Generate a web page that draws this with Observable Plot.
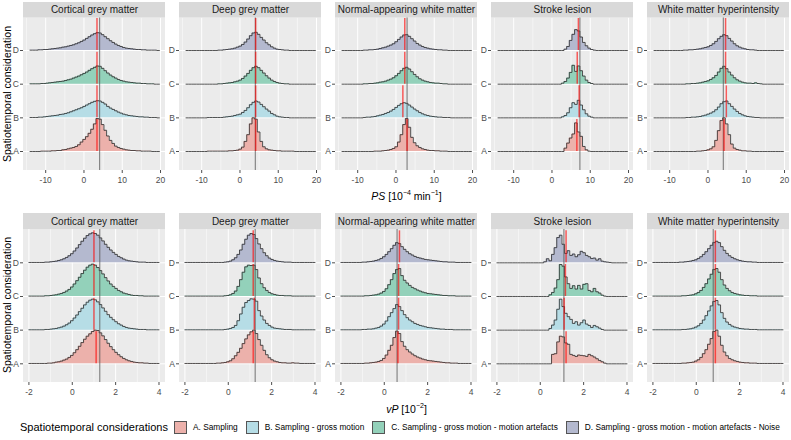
<!DOCTYPE html>
<html><head><meta charset="utf-8">
<script src="https://cdn.jsdelivr.net/npm/d3@7"></script>
<script src="https://cdn.jsdelivr.net/npm/@observablehq/plot@0.6"></script>
<style>
body{margin:0;background:#fff;}
#root{position:relative;width:791px;height:440px;font-family:"Liberation Sans",Arial,sans-serif;color:#000;overflow:hidden;background:#fff}
.abs{position:absolute}
.xt{text-align:center;font-size:10.5px;color:#000;line-height:14px}
.yt{font-size:10.5px;text-align:center;transform:rotate(-90deg);white-space:nowrap;line-height:12px}
#legend{display:flex;align-items:center;white-space:nowrap}
#legend .ttl{font-size:11px;margin-right:6px}
#legend .key{width:13px;height:13px;border:0.8px solid #555;box-sizing:border-box;margin-right:6px}
#legend .lab{font-size:8.3px;margin-right:8px}
</style></head><body>
<div id="root">
  <div id="p1" class="abs" style="left:0;top:0"></div>
  <div class="abs xt" style="left:22px;width:769px;top:186px"><i>PS</i> [10<sup style="font-size:7px">−4</sup> min<sup style="font-size:7px">−1</sup>]</div>
  <div id="p2" class="abs" style="left:0;top:200px"></div>
  <div class="abs xt" style="left:22px;width:769px;top:399px"><i>vP</i> [10<sup style="font-size:7px">−2</sup>]</div>
  <div class="abs yt" style="left:-78px;top:88px;width:170px;height:12px">Spatiotemporal consideration</div>
  <div class="abs yt" style="left:-78px;top:299px;width:170px;height:12px">Spatiotemporal consideration</div>
  <div id="legend" class="abs" style="left:20px;top:419px;height:16px"></div>
</div>
<script>
const panels = ["Cortical grey matter","Deep grey matter","Normal-appearing white matter","Stroke lesion","White matter hyperintensity"];
const groups = ["A","B","C","D"];
const legendTitle = "Spatiotemporal considerations";
const legendLabels = ["A. Sampling","B. Sampling - gross motion","C. Sampling - gross motion - motion artefacts","D. Sampling - gross motion - motion artefacts - Noise"];
const fillColors = ["#ECB1AB","#B6DDE6","#93D1BA","#B4B9CF"];

const psTicks = [-10,0,10,20];
const psMinor = [-15,-5,5,15];
const vpTicks = [-2,0,2,4];
const vpMinor = [-1,1,3];

// PS histograms: bins start at -14.1, width 0.69 ; heights in % of ridge spacing
const psBinStart = -14.1, psBinWidth = 0.69;
const psCortical = [
 [0,0,0,0,1,1,1,1,2,2,3,3,5,6,8,10,12,15,20,28,36,44,54,66,82,98,96,80,63,46,33,24,16,12,9,7,5,4,3,3,2,2,1,1,1,1,0,0,0],
 [1,1,1,2,2,3,4,5,6,7,8,10,11,13,15,18,21,24,27,30,34,38,42,46,49,51,50,46,41,34,29,25,21,17,14,11,9,7,6,5,4,3,3,2,2,1,1,1,0],
 [1,1,1,1,2,2,3,4,5,6,7,8,9,11,13,15,18,21,24,28,32,36,41,46,50,54,53,47,40,33,27,22,18,14,11,9,7,6,5,4,3,3,2,2,1,1,1,0,0],
 [1,1,1,2,2,3,3,4,5,6,7,8,10,11,13,15,17,20,23,27,31,36,41,46,50,53,52,47,41,35,29,24,19,15,12,9,7,6,5,4,3,3,2,2,1,1,1,1,0]];
const psDeep = [
 [0,0,0,0,0,0,0,0,1,1,1,1,1,1,1,1,2,2,3,4,7,13,30,50,82,100,96,58,30,14,8,5,4,3,2,2,1,1,1,1,1,0,0,0,0,0,0,0,0],
 [0,0,0,0,0,0,0,0,1,1,1,1,1,1,2,3,4,5,7,9,11,16,22,30,39,46,50,47,40,33,26,20,13,9,5,3,2,1,1,0,0,0,0,0,0,0,0,0,0],
 [0,0,0,0,0,0,0,0,0,0,0,0,1,1,2,3,4,5,7,9,12,17,24,32,41,49,53,49,41,33,25,18,12,8,5,3,2,1,1,0,0,0,0,0,0,0,0,0,0],
 [0,0,0,0,0,0,0,0,0,0,0,0,1,1,2,3,4,5,7,10,13,18,25,34,44,52,54,48,39,31,23,17,11,7,4,3,2,1,1,0,0,0,0,0,0,0,0,0,0]];
const psNAWM = [
 [0,0,0,0,0,0,0,0,0,0,0,0,1,1,1,2,3,4,6,9,14,28,50,80,98,72,42,26,17,12,8,6,4,3,3,2,2,1,1,1,0,0,0,0,0,0,0,0,0],
 [0,0,0,0,0,0,0,0,1,2,2,3,4,6,8,10,13,16,20,25,31,37,42,45,43,38,32,26,21,16,12,9,7,5,4,3,2,2,1,1,1,0,0,0,0,0,0,0,0],
 [0,0,0,0,0,0,0,0,1,1,2,2,3,4,6,7,9,12,15,19,25,32,40,47,50,45,37,29,22,16,12,9,7,5,4,3,3,2,1,1,0,0,0,0,0,0,0,0,0],
 [0,0,0,0,0,0,0,0,1,1,2,2,3,4,6,8,10,13,16,20,26,33,40,46,47,42,35,28,21,16,12,9,7,5,4,3,2,2,1,1,0,0,0,0,0,0,0,0,0]];
const psStroke = [
 [0,0,0,0,0,0,0,0,0,0,0,0,0,0,0,0,0,0,0,0,0,0,0,0,0,10,25,40,52,85,58,45,15,5,1,0,0,0,0,0,0,0,0,0,0,0,0,0,0],
 [0,0,0,0,0,0,0,0,0,0,0,0,0,0,0,0,0,0,0,0,0,0,0,0,3,7,15,30,45,40,52,38,24,12,5,2,0,0,0,0,0,0,0,0,0,0,0,0,0],
 [0,0,0,0,0,0,0,0,0,0,0,0,0,0,0,0,0,0,0,0,0,0,0,0,3,8,18,35,56,38,54,40,24,12,5,2,0,0,0,0,0,0,0,0,0,0,0,0,0],
 [0,0,0,0,0,0,0,0,0,0,0,0,0,0,0,0,0,0,0,0,0,0,0,0,0,4,12,30,48,62,58,40,24,14,7,3,1,0,0,0,0,0,0,0,0,0,0,0,0]];
const psWMH = [
 [0,0,0,0,0,0,0,0,0,0,0,0,0,0,0,0,1,1,2,3,5,8,14,33,62,92,100,82,50,22,10,6,4,2,2,1,1,0,0,0,0,0,0,0,0,0,0,0,0],
 [0,0,0,0,0,0,0,0,0,0,0,0,1,1,2,2,3,4,6,8,11,14,18,24,32,42,48,50,42,34,26,19,13,9,6,4,3,2,1,1,0,0,0,0,0,0,0,0,0],
 [0,0,0,0,0,0,0,0,0,0,0,0,1,1,2,2,3,4,6,8,10,14,19,26,36,47,53,46,36,27,19,13,9,6,4,3,3,2,4,2,1,0,0,0,0,0,0,0,0],
 [0,0,0,0,0,0,0,0,0,0,0,1,1,2,2,3,4,5,7,9,11,15,20,27,35,42,47,44,36,28,20,14,10,7,5,3,2,2,1,0,0,0,0,0,0,0,0,0,0]];
const psMean = [[3.4,3.4,3.4,3.4],[4.1,4.1,4.1,4.1],[2.9,1.8,2.3,2.3],[6.5,7.1,6.6,6.9],[4.2,4.8,4.6,4.6]];
const psRef = [4.1,4.0,2.9,7.3,4.0];

// vP histograms: bins start at -2, width 0.12
const vpBinStart = -2, vpBinWidth = 0.12;
const vpCortical = [
 [1,1,1,1,1,1,1,2,2,3,5,6,8,11,14,19,25,33,42,52,63,73,82,89,96,100,99,92,83,72,61,51,42,34,27,21,16,12,9,7,5,4,3,3,2,2,1,1,1,1],
 [1,1,1,1,1,1,2,2,3,4,5,7,9,12,16,21,28,36,45,55,65,75,83,89,92,90,84,76,66,56,46,38,31,25,19,15,11,8,6,5,4,3,2,2,2,1,1,1,1,1],
 [1,1,1,1,1,1,2,2,3,4,5,7,9,12,16,21,28,37,47,57,68,78,87,93,96,93,86,77,67,56,46,37,30,24,18,14,10,8,6,4,3,3,2,2,1,1,1,1,1,1],
 [1,1,1,1,1,1,2,2,3,4,5,7,9,12,16,21,27,35,44,54,64,73,81,86,89,87,82,74,65,55,46,38,31,25,19,15,11,8,6,5,4,3,2,2,2,1,1,1,1,1]];
const vpDeep = [
 [1,1,1,1,1,1,1,1,1,1,1,1,2,2,3,4,6,9,15,24,34,46,60,74,86,95,100,90,72,55,40,27,18,12,8,6,4,3,3,2,2,3,2,2,1,1,1,1,1,1],
 [1,1,1,1,1,1,1,1,1,1,1,1,1,1,1,2,3,5,8,14,28,48,68,82,88,93,92,86,58,42,30,20,14,9,6,5,4,3,2,2,2,1,1,1,1,1,1,1,1,1],
 [1,1,1,1,1,1,1,1,1,1,1,1,1,1,1,2,3,5,9,16,30,50,72,88,93,92,93,80,55,38,26,18,12,8,6,4,3,3,2,2,2,1,1,1,1,1,1,1,1,1],
 [1,1,1,1,1,1,1,1,1,1,1,1,1,1,1,2,3,5,9,15,25,38,55,70,82,87,84,72,56,42,30,21,14,10,7,5,4,3,2,2,2,1,1,1,1,1,1,1,1,1]];
const vpNAWM = [
 [1,1,1,1,1,1,1,1,1,2,2,3,4,5,7,10,16,26,40,55,78,97,90,66,52,42,35,29,24,20,17,14,12,10,9,8,7,6,5,4,3,3,2,2,2,1,1,1,1,1],
 [1,1,1,1,1,1,1,1,2,2,3,3,4,6,8,12,18,27,40,52,64,76,70,58,46,37,30,25,20,17,14,12,10,8,7,6,5,4,3,3,2,2,2,1,1,1,1,1,1,1],
 [1,1,1,1,1,1,1,1,1,2,2,3,4,5,7,10,15,23,35,50,68,80,83,62,48,40,33,27,23,19,16,13,11,9,8,7,6,5,4,3,3,2,2,2,1,1,1,1,1,1],
 [1,1,1,1,1,1,1,1,2,2,3,4,5,7,9,13,18,25,33,42,52,60,57,48,40,33,27,23,19,16,14,12,10,9,8,7,6,5,4,3,3,2,2,2,1,1,1,1,1,1]];
const vpStroke = [
 [0,0,0,0,0,0,0,0,0,0,0,0,0,0,0,0,0,0,0,0,0,28,30,65,82,80,62,58,28,25,22,26,25,24,22,28,24,20,15,10,6,2,0,0,0,0,0,0,0,0],
 [0,0,0,0,0,0,0,0,0,0,0,0,0,0,0,0,0,0,0,0,5,15,30,62,92,70,50,40,32,20,25,15,22,30,18,14,8,14,10,6,2,0,0,0,0,0,0,0,0,0],
 [0,0,0,0,0,0,0,0,0,0,0,0,0,0,0,0,0,0,0,0,5,12,25,50,95,90,58,38,24,32,22,33,22,36,38,18,14,24,14,10,4,1,0,0,0,0,0,0,0,0],
 [0,0,0,0,0,0,0,0,0,0,0,0,0,0,0,0,0,0,3,12,6,25,45,75,82,55,28,36,22,26,18,24,34,30,22,18,13,14,8,12,5,3,2,1,0,0,0,0,0,0]];
const vpWMH = [
 [1,1,1,1,1,1,1,1,1,1,1,2,2,3,4,5,8,12,19,30,42,58,75,96,100,82,55,35,24,16,12,9,7,5,4,3,3,2,2,2,1,1,1,1,1,1,1,1,1,1],
 [1,1,1,1,1,1,1,1,1,1,1,2,2,3,4,6,9,13,20,30,43,57,72,85,88,75,52,35,24,17,12,9,7,5,4,3,3,2,2,2,1,1,1,1,1,1,1,1,1,1],
 [1,1,1,1,1,1,1,1,1,1,1,2,2,3,4,5,8,12,18,27,38,52,66,80,83,72,50,34,24,17,12,9,7,5,4,3,3,2,2,2,1,1,1,1,1,1,1,1,1,1],
 [1,1,1,1,1,1,1,1,1,1,2,2,3,4,5,7,9,13,18,25,33,42,52,60,64,60,48,37,28,21,16,12,9,7,5,4,3,3,2,2,1,1,1,1,1,1,1,1,1,1]];
const vpMean = [[1.1,1.0,1.0,1.0],[1.15,1.2,1.15,1.15],[0.63,0.66,0.66,0.70],[1.19,1.1,1.16,1.19],[0.88,0.88,0.88,0.88]];
const vpRef = [1.27,1.24,0.59,1.09,0.78];

function makeRow(cfg) {
  const {hists, means, refs, binStart, binWidth, ticks, minor, xDomain, yDomain, panelTop, height, marginTop, marginBottom} = cfg;
  const hist = [];
  panels.forEach((p, pi) => hists[pi].forEach((vals, gi) => {
    vals.forEach((v, i) => {
      const a = binStart + i * binWidth;
      hist.push({panel: p, g: gi, x: a, base: gi, top: gi + v / 100});
      hist.push({panel: p, g: gi, x: a + binWidth, base: gi, top: gi + v / 100});
    });
  }));
  const meanData = [];
  panels.forEach((p, pi) => means[pi].forEach((m, gi) => meanData.push({panel: p, g: gi, x: m})));
  const refData = panels.map((p, pi) => ({panel: p, x: refs[pi]}));
  const yb = yDomain[0], st = yDomain[1];
  const marks = [
    Plot.rect([0], {x1: xDomain[0], x2: xDomain[1], y1: yb, y2: panelTop, fill: "#EBEBEB"}),
    Plot.ruleX(minor, {y1: yb, y2: panelTop, stroke: "#fff", strokeWidth: 0.5}),
    Plot.ruleX(ticks, {y1: yb, y2: panelTop, stroke: "#fff", strokeWidth: 1}),
    Plot.ruleY([0, 1, 2, 3], {x1: xDomain[0], x2: xDomain[1], stroke: "#fff", strokeWidth: 1}),
    Plot.rect(panels, {fx: d => d, x1: xDomain[0], x2: xDomain[1], y1: panelTop, y2: st, fill: "#D9D9D9"}),
    Plot.text(panels, {fx: d => d, x: (xDomain[0] + xDomain[1]) / 2, y: (panelTop + st) / 2, text: d => d, fontSize: 10, fill: "#1A1A1A"})
  ];
  for (let gi = 3; gi >= 0; gi--) {
    const d = hist.filter(r => r.g === gi);
    marks.push(Plot.area(d, {x1: "x", y1: "base", y2: "top", fx: "panel", fill: fillColors[gi]}));
    marks.push(Plot.line(d, {x: "x", y: "top", fx: "panel", stroke: "#2a2a2a", strokeWidth: 0.8}));
  }
  marks.push(Plot.ruleX(refData, {x: "x", fx: "panel", y1: yb, y2: panelTop, stroke: "#555", strokeWidth: 1, strokeOpacity: 0.8}));
  marks.push(Plot.ruleX(meanData, {x: "x", fx: "panel", y1: "g", y2: d => d.g + 0.95, stroke: "#FF0000", strokeWidth: 1.5, strokeOpacity: 0.62}));
  marks.push(Plot.axisX(ticks, {tickSize: 3, tickPadding: 3, fontSize: 8.5, color: "#4D4D4D", label: null, tickFormat: d => String(d)}));
  marks.push(Plot.axisY([0, 1, 2, 3], {tickSize: 3, tickPadding: 1.5, fontSize: 8.5, color: "#4D4D4D", label: null, facetAnchor: null, tickFormat: i => groups[i]}));
  return Plot.plot({
    width: 791, height, marginLeft: 22, marginRight: 1, marginTop, marginBottom,
    style: {fontFamily: "'Liberation Sans', Arial, sans-serif", background: "transparent", overflow: "visible"},
    x: {domain: xDomain, axis: null},
    y: {domain: yDomain, axis: null},
    fx: {domain: panels, paddingInner: 0.09, paddingOuter: 0, axis: null, label: null},
    marks
  });
}

document.getElementById("p1").appendChild(makeRow({
  hists: [psCortical, psDeep, psNAWM, psStroke, psWMH], means: psMean, refs: psRef,
  binStart: psBinStart, binWidth: psBinWidth, ticks: psTicks, minor: psMinor,
  xDomain: [-15.8, 21.3], yDomain: [-0.564, 4.426], panelTop: 3.965,
  height: 186, marginTop: 2, marginBottom: 16
}));
document.getElementById("p2").appendChild(makeRow({
  hists: [vpCortical, vpDeep, vpNAWM, vpStroke, vpWMH], means: vpMean, refs: vpRef,
  binStart: vpBinStart, binWidth: vpBinWidth, ticks: vpTicks, minor: vpMinor,
  xDomain: [-2.25, 4.3], yDomain: [-0.555, 4.465], panelTop: 3.989,
  height: 196, marginTop: 13, marginBottom: 14
}));

const lg = document.getElementById("legend");
const t = document.createElement("span"); t.className = "ttl"; t.textContent = legendTitle; lg.appendChild(t);
legendLabels.forEach((l, i) => {
  const k = document.createElement("span"); k.className = "key"; k.style.background = fillColors[i]; lg.appendChild(k);
  const s = document.createElement("span"); s.className = "lab"; s.textContent = l; lg.appendChild(s);
});
</script>
</body></html>
